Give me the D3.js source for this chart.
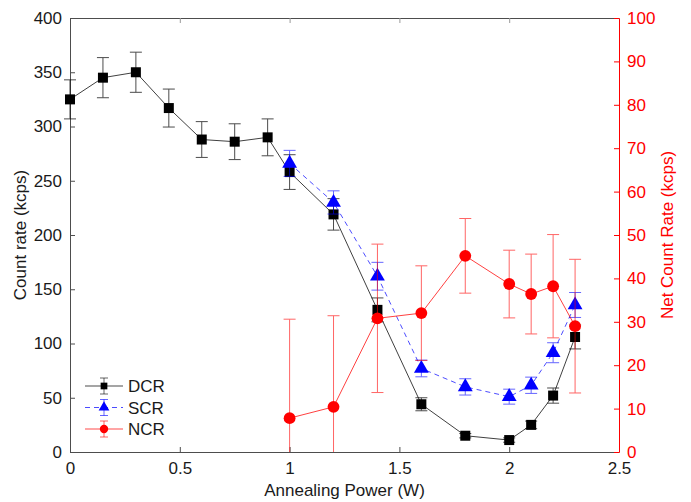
<!DOCTYPE html>
<html>
<head>
<meta charset="utf-8">
<script src="https://cdn.jsdelivr.net/npm/d3@7"></script>
<style>
  body { margin: 0; background: #fff; }
  text { font-family: "Liberation Sans", Arial, sans-serif; }
</style>
</head>
<body>
<div id="chart"></div>
<script>
const WIDTH = 691;
const HEIGHT = 502;
const MARGIN = { left: 70, right: 72, top: 18, bottom: 50 };

// annealing power (W)
const dcrX = [0, 0.15, 0.3, 0.45, 0.6, 0.75, 0.9, 1.0, 1.2, 1.4, 1.6, 1.8, 2.0, 2.1, 2.2, 2.3];
const dcrY = [325, 345, 350, 317, 288, 286, 290, 258, 219, 131, 44, 15, 11, 25, 52, 106];
const dcrErr = [18, 18.5, 18.5, 17.5, 16.5, 16.5, 17, 16, 14.5, 11, 6, 2, 2, 3.5, 7, 11];

const scrX = [1.0, 1.2, 1.4, 1.6, 1.8, 2.0, 2.1, 2.2, 2.3];
const scrY = [266, 230, 162, 77, 60, 51, 61.5, 91.5, 135.5];
const scrErr = [12, 10.7, 12.8, 7.7, 7.5, 6.9, 7.5, 9.2, 11.5];

const ncrX = [1.0, 1.2, 1.4, 1.6, 1.8, 2.0, 2.1, 2.2, 2.3];
const ncrY = [7.8, 10.4, 30.8, 32, 45.2, 38.7, 36.4, 38.2, 29];
const ncrErr = [22.8, 21, 17.1, 10.9, 8.6, 7.8, 9.2, 11.9, 15.4];

const xTicks = [0, 0.5, 1, 1.5, 2, 2.5];
const yTicks = [0, 50, 100, 150, 200, 250, 300, 350, 400];
const y2Ticks = [0, 10, 20, 30, 40, 50, 60, 70, 80, 90, 100];

const svg = d3.select("#chart").append("svg")
  .attr("width", WIDTH)
  .attr("height", HEIGHT);

const x = d3.scaleLinear().domain([0, 2.5]).range([MARGIN.left, WIDTH - MARGIN.right]);
const y = d3.scaleLinear().domain([0, 400]).range([HEIGHT - MARGIN.bottom, MARGIN.top]);
const y2 = d3.scaleLinear().domain([0, 100]).range([HEIGHT - MARGIN.bottom, MARGIN.top]);

const axisGray = "#4d4d4d";
const textColor = "#1a1a1a";
const red = "#ff0000";
const FONT = "17px";

// axes
let styleAxis = (g, color) => {
  g.select(".domain").attr("stroke", color);
  g.selectAll(".tick line").attr("stroke", color);
  g.selectAll(".tick text").attr("fill", color).style("font-size", FONT);
}

svg.append("g")
  .attr("transform", `translate(0, ${HEIGHT - MARGIN.bottom})`)
  .call(d3.axisBottom(x).tickValues(xTicks).tickFormat(d3.format("")).tickSizeInner(-5).tickSizeOuter(0).tickPadding(10))
  .call(g => styleAxis(g, axisGray))
  .call(g => g.selectAll(".tick text").attr("fill", textColor));

svg.append("g")
  .attr("transform", `translate(0, ${MARGIN.top})`)
  .call(d3.axisTop(x).tickValues(xTicks).tickFormat("").tickSizeInner(-5).tickSizeOuter(0))
  .call(g => styleAxis(g, axisGray))
  .call(g => g.selectAll(".tick line").attr("stroke", "#999"));

svg.append("g")
  .attr("transform", `translate(${MARGIN.left}, 0)`)
  .call(d3.axisLeft(y).tickValues(yTicks).tickSizeInner(-5).tickSizeOuter(0).tickPadding(8))
  .call(g => styleAxis(g, axisGray))
  .call(g => g.selectAll(".tick text").attr("fill", textColor));

svg.append("g")
  .attr("transform", `translate(${WIDTH - MARGIN.right}, 0)`)
  .call(d3.axisRight(y2).tickValues(y2Ticks).tickSizeInner(-5).tickSizeOuter(0).tickPadding(8))
  .call(g => styleAxis(g, red));

// axis labels
svg.append("text")
  .attr("x", (MARGIN.left + WIDTH - MARGIN.right) / 2)
  .attr("y", HEIGHT - 6)
  .attr("text-anchor", "middle")
  .style("font-size", FONT)
  .attr("fill", textColor)
  .text("Annealing Power (W)");

svg.append("text")
  .attr("transform", `translate(26, ${(MARGIN.top + HEIGHT - MARGIN.bottom) / 2}) rotate(-90)`)
  .attr("text-anchor", "middle")
  .style("font-size", FONT)
  .attr("fill", textColor)
  .text("Count rate (kcps)");

svg.append("text")
  .attr("transform", `translate(${WIDTH - 18}, ${(MARGIN.top + HEIGHT - MARGIN.bottom) / 2}) rotate(-90)`)
  .attr("text-anchor", "middle")
  .style("font-size", FONT)
  .attr("fill", red)
  .text("Net Count Rate (kcps)");

// error bars are cut at the bottom of the axes
svg.append("clipPath").attr("id", "errclip")
  .append("rect")
  .attr("x", 0).attr("y", 0)
  .attr("width", WIDTH)
  .attr("height", HEIGHT - MARGIN.bottom);

const plot = svg.append("g");

let drawSeries = (xs, ys, errs, yScale, opts) => {
  const pts = xs.map((d, i) => ({ x: d, y: ys[i], e: errs[i] }));
  const g = plot.append("g");

  // error bars
  const eb = g.append("g")
    .attr("clip-path", "url(#errclip)")
    .attr("stroke", opts.errColor)
    .attr("stroke-width", 1)
    .attr("opacity", opts.errOpacity);
  pts.forEach(p => {
    const cx = x(p.x), y0 = yScale(p.y - p.e), y1 = yScale(p.y + p.e);
    eb.append("line").attr("x1", cx).attr("x2", cx).attr("y1", y0).attr("y2", y1);
    eb.append("line").attr("x1", cx - 6).attr("x2", cx + 6).attr("y1", y0).attr("y2", y0);
    eb.append("line").attr("x1", cx - 6).attr("x2", cx + 6).attr("y1", y1).attr("y2", y1);
  });

  // line
  g.append("path")
    .datum(pts)
    .attr("fill", "none")
    .attr("stroke", opts.lineColor)
    .attr("stroke-width", 1)
    .attr("opacity", opts.lineOpacity)
    .attr("stroke-dasharray", opts.dash)
    .attr("d", d3.line().x(d => x(d.x)).y(d => yScale(d.y)));

  // markers
  g.selectAll("path.mk")
    .data(pts)
    .enter()
    .append("path")
    .attr("class", "mk")
    .attr("transform", d => `translate(${x(d.x)}, ${yScale(d.y)})`)
    .attr("d", d3.symbol().type(opts.symbol).size(opts.size))
    .attr("fill", opts.color);
}

drawSeries(dcrX, dcrY, dcrErr, y, {
  color: "#000", lineColor: "#000", lineOpacity: 0.75, errColor: "#000", errOpacity: 0.7,
  dash: null, symbol: d3.symbolSquare, size: 100
});
drawSeries(scrX, scrY, scrErr, y, {
  color: "#0000ff", lineColor: "#0000ff", lineOpacity: 0.7, errColor: "#0000ff", errOpacity: 0.6,
  dash: "5,4", symbol: d3.symbolTriangle, size: 95
});
drawSeries(ncrX, ncrY, ncrErr, y2, {
  color: "#ff0000", lineColor: "#ff0000", lineOpacity: 0.75, errColor: "#ff0000", errOpacity: 0.6,
  dash: null, symbol: d3.symbolCircle, size: 110
});

// legend
const legendItems = [
  { name: "DCR", color: "#000", symbol: d3.symbolSquare, size: 45, dash: null },
  { name: "SCR", color: "#0000ff", symbol: d3.symbolTriangle, size: 50, dash: "5,4" },
  { name: "NCR", color: "#ff0000", symbol: d3.symbolCircle, size: 55, dash: null }
];
const legend = svg.append("g").attr("transform", "translate(85, 386)");
legendItems.forEach((d, i) => {
  const row = legend.append("g").attr("transform", `translate(0, ${i * 21.5})`);
  row.append("line").attr("x1", 0).attr("x2", 38).attr("stroke", d.color)
    .attr("opacity", 0.7).attr("stroke-dasharray", d.dash);
  row.append("line").attr("x1", 19).attr("x2", 19).attr("y1", -8).attr("y2", 8)
    .attr("stroke", d.color).attr("opacity", 0.6);
  row.append("line").attr("x1", 15).attr("x2", 23).attr("y1", -8).attr("y2", -8)
    .attr("stroke", d.color).attr("opacity", 0.6);
  row.append("line").attr("x1", 15).attr("x2", 23).attr("y1", 8).attr("y2", 8)
    .attr("stroke", d.color).attr("opacity", 0.6);
  row.append("path").attr("transform", "translate(19, 0)")
    .attr("d", d3.symbol().type(d.symbol).size(d.size)).attr("fill", d.color);
  row.append("text").attr("x", 43).attr("y", 6).style("font-size", FONT)
    .attr("fill", textColor).text(d.name);
});
</script>
</body>
</html>
